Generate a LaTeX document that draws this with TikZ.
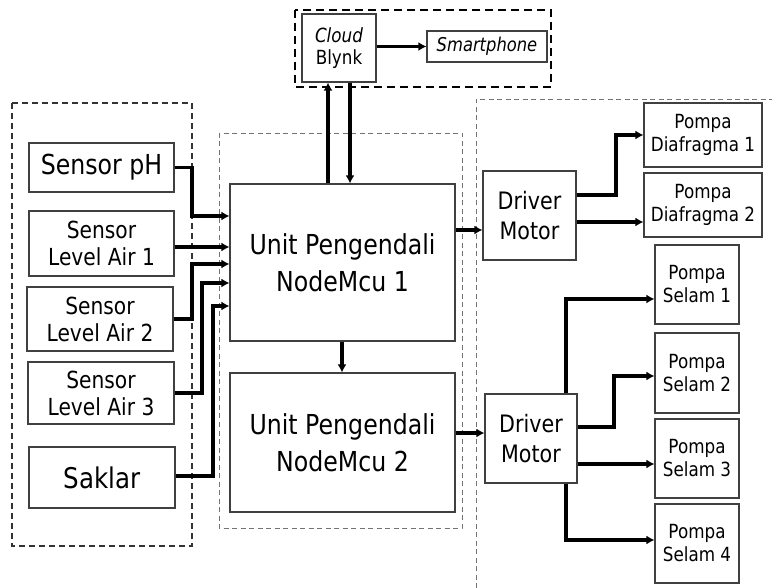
\documentclass[tikz,border=0pt]{standalone}
\usepackage{fontspec}
\setmainfont{DejaVu Sans}[FakeStretch=0.86]
\usetikzlibrary{arrows.meta}
\begin{document}
\begin{tikzpicture}[x=1pt,y=-1pt,
  blk/.style={draw=black!75,line width=1.1pt,fill=white,inner sep=0pt,align=center},
  fs/.style 2 args={font={\fontsize{#1}{#2}\selectfont}},
  arr/.style={line width=3.6pt,-{Latex[length=8pt,width=9pt]}},
  dashA/.style={draw=black!80,line width=1.1pt,dash pattern=on 6pt off 4pt},
  dashB/.style={draw=black!55,line width=0.9pt,dash pattern=on 5pt off 3.5pt},
  dashC/.style={draw=black,line width=1.2pt,dash pattern=on 8pt off 5pt}]
\useasboundingbox (0,0) rectangle (772,588);
% dashed groups
\draw[dashC] (295,10) rectangle (551,87);
\draw[dashA] (12,103) rectangle (192,546);
\draw[dashB] (219,133) rectangle (462,528);
\draw[dashB] (476,588) -- (476,99) -- (772,99);
% nodes
\node[blk,fs={19.5}{22},minimum width=74pt,minimum height=68pt] (cloud) at (339,48)
  {\textit{Cloud}\\Blynk};
\node[blk,fs={19}{22},minimum width=120pt,minimum height=31pt] (smart) at (487,46.5)
  {\textit{Smartphone}};
\node[blk,fs={27.5}{32},minimum width=145pt,minimum height=49pt] (sph) at (101.5,167.5)
  {Sensor pH};
\node[blk,fs={23.5}{27},minimum width=145pt,minimum height=65pt] (sl1) at (101.5,243.5)
  {Sensor\\Level Air 1};
\node[blk,fs={23.5}{27},minimum width=146pt,minimum height=64pt] (sl2) at (100,319)
  {Sensor\\Level Air 2};
\node[blk,fs={23.5}{27},minimum width=146pt,minimum height=62pt] (sl3) at (101,393)
  {Sensor\\Level Air 3};
\node[blk,fs={28.5}{32},minimum width=146pt,minimum height=61pt] (sak) at (102,477.5)
  {Saklar};
\node[blk,fs={27.5}{37},minimum width=225pt,minimum height=157pt] (u1) at (342.5,262.5)
  {Unit Pengendali\\NodeMcu 1};
\node[blk,fs={27.5}{37},minimum width=225pt,minimum height=139pt] (u2) at (342.5,442.5)
  {Unit Pengendali\\NodeMcu 2};
\node[blk,fs={24}{30},minimum width=93pt,minimum height=89pt] (d1) at (529.5,215.5)
  {Driver\\Motor};
\node[blk,fs={24}{30},minimum width=92pt,minimum height=89pt] (d2) at (531,438.5)
  {Driver\\Motor};
\node[blk,fs={19.5}{23},minimum width=118pt,minimum height=64pt] (pd1) at (703,135)
  {Pompa\\Diafragma 1};
\node[blk,fs={19.5}{23},minimum width=118pt,minimum height=64pt] (pd2) at (703,205)
  {Pompa\\Diafragma 2};
\node[blk,fs={19.5}{23},minimum width=84pt,minimum height=79pt] (ps1) at (697,284.5)
  {Pompa\\Selam 1};
\node[blk,fs={19.5}{23},minimum width=84pt,minimum height=80pt] (ps2) at (697,373)
  {Pompa\\Selam 2};
\node[blk,fs={19.5}{23},minimum width=84pt,minimum height=79pt] (ps3) at (697,458.5)
  {Pompa\\Selam 3};
\node[blk,fs={19.5}{23},minimum width=84pt,minimum height=79pt] (ps4) at (697,543.5)
  {Pompa\\Selam 4};
% connectors
\draw[arr] (cloud.east|-smart.west) -- (smart.west);
\draw[arr] (u1.north-|328,0) -- (cloud.south-|328,0);
\draw[arr] (cloud.south-|350,0) -- (u1.north-|350,0);
\draw[arr] (u1.south-|342,0) -- (u2.north-|342,0);
\draw[arr] (sph.east) -- (192,167.5) -- (192,216) -- (u1.west|-0,216);
\draw[arr] (sl1.east|-0,247) -- (u1.west|-0,247);
\draw[arr] (sl2.east) -- (192,319) -- (192,264) -- (u1.west|-0,264);
\draw[arr] (sl3.east) -- (202,393) -- (202,283) -- (u1.west|-0,283);
\draw[arr] (sak.east|-0,476) -- (213,476) -- (213,306) -- (u1.west|-0,306);
\draw[arr] (u1.east|-0,230) -- (d1.west|-0,230);
\draw[arr] (u2.east|-0,433) -- (d2.west|-0,433);
\draw[arr] (d1.east|-0,195) -- (616,195) -- (616,135) -- (pd1.west);
\draw[arr] (d1.east|-0,222) -- (pd2.west|-0,222);
\draw[arr] (d2.north-|566,0) -- (566,299) -- (ps1.west|-0,299);
\draw[arr] (d2.east|-0,427) -- (614,427) -- (614,376) -- (ps2.west|-0,376);
\draw[arr] (d2.east|-0,464) -- (ps3.west|-0,464);
\draw[arr] (d2.south-|566,0) -- (566,540) -- (ps4.west|-0,540);
\end{tikzpicture}
\end{document}
